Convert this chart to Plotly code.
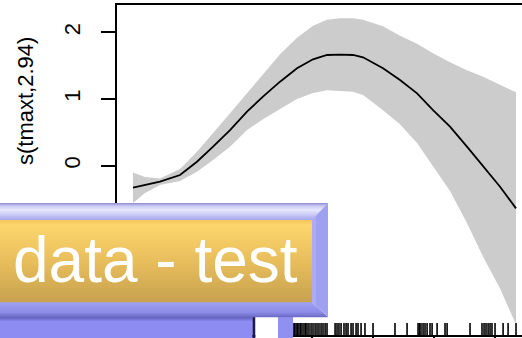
import plotly.graph_objects as go

W, H = 522, 338

# ---------------- data ----------------
tmaxt = [5.33, 6.31, 7.54, 9.18, 10.57, 11.89, 13.28, 14.67, 15.98, 17.38,
         18.77, 20.08, 21.23, 22.30, 23.36, 24.18, 25.82, 27.21, 28.61, 29.92,
         31.31, 32.70, 34.02, 35.41, 36.72]
fit = [-0.33, -0.29, -0.24, -0.14, 0.06, 0.285, 0.535, 0.81, 1.035, 1.26,
       1.46, 1.595, 1.66, 1.665, 1.66, 1.625, 1.46, 1.285, 1.085, 0.835,
       0.585, 0.285, -0.015, -0.315, -0.64]
upper = [-0.10, -0.17, -0.19, -0.05, 0.21, 0.485, 0.785, 1.085, 1.375, 1.67,
         1.92, 2.10, 2.19, 2.21, 2.21, 2.19, 2.09, 1.95, 1.83, 1.685,
         1.55, 1.43, 1.335, 1.21, 1.10]
lower = [-0.56, -0.41, -0.29, -0.23, -0.09, 0.085, 0.285, 0.535, 0.695, 0.85,
         1.00, 1.09, 1.13, 1.12, 1.11, 1.06, 0.83, 0.62, 0.34, -0.015,
         -0.38, -0.86, -1.365, -1.84, -2.38]
rug_tmaxt = [18.44, 18.57, 18.69, 18.81, 18.93, 19.06, 19.18, 19.34, 19.47, 19.59,
             19.75, 19.92, 20.08, 20.25, 20.41, 20.57, 20.74, 20.90, 21.07, 21.23,
             21.89, 22.05, 22.21, 22.38, 22.62, 22.79, 22.95, 23.20, 23.36, 23.61,
             23.77, 24.02, 24.34, 25.00, 26.80, 27.79, 28.69, 28.81, 28.93, 29.10,
             29.26, 29.43, 29.67, 29.84, 30.25, 30.90, 31.07, 32.95, 33.93, 34.10,
             34.26, 34.43, 34.59, 34.75, 35.00, 35.66, 36.07, 36.72]
y_tick_values = [0, 1, 2]
y_tick_labels = ["0", "1", "2"]
x_tick_values = [5, 10, 15, 20, 25, 30, 35]
y_title = "s(tmaxt,2.94)"
overlay_text = "data - test"

X_RANGE = [4.016, 37.21]
Y_RANGE = [-2.538, 2.405]

# ---------------- layout geometry (pixels) ----------------
PLOT_L, PLOT_R = 117, 522
PLOT_T, PLOT_B = 5.3, 335
FONT = "Liberation Sans, Arial, sans-serif"


def px(x):
    return x / W


def py(y):
    return 1 - y / H


fig = go.Figure()

# confidence band
fig.add_trace(go.Scatter(
    x=tmaxt + tmaxt[::-1], y=upper + lower[::-1],
    fill="toself", fillcolor="#cccccc", line=dict(width=0),
    mode="lines", hoverinfo="skip", showlegend=False))

# smooth
fig.add_trace(go.Scatter(
    x=tmaxt, y=fit, mode="lines",
    line=dict(color="black", width=1.8), showlegend=False))

# rug
rug_len = (Y_RANGE[1] - Y_RANGE[0]) * 12 / (PLOT_B - PLOT_T)
rx, ry = [], []
for v in rug_tmaxt:
    rx += [v, v, None]
    ry += [Y_RANGE[0], Y_RANGE[0] + rug_len, None]
fig.add_trace(go.Scatter(x=rx, y=ry, mode="lines",
                         line=dict(color="black", width=1.6),
                         showlegend=False, hoverinfo="skip"))

shapes = []


def rect(x0, y0, x1, y1, color):
    shapes.append(dict(type="rect", xref="paper", yref="paper",
                       x0=px(x0), x1=px(x1), y0=py(y1), y1=py(y0),
                       fillcolor=color, line=dict(width=0), layer="above"))


def poly(points, color):
    path = "M " + " L ".join(f"{px(a):.5f},{py(b):.5f}" for a, b in points) + " Z"
    shapes.append(dict(type="path", xref="paper", yref="paper", path=path,
                       fillcolor=color, line=dict(width=0), layer="above"))


def lerp(c0, c1, t):
    return "rgb(%d,%d,%d)" % tuple(round(a + (b - a) * t) for a, b in zip(c0, c1))


def grad(stops, t):
    for i in range(len(stops) - 1):
        t0, c0 = stops[i]
        t1, c1 = stops[i + 1]
        if t0 <= t <= t1:
            return lerp(c0, c1, (t - t0) / (t1 - t0) if t1 > t0 else 0)
    return lerp(stops[-1][1], stops[-1][1], 0)


# ---------- overlay: lower blue panel pieces ----------
rect(-5, 317, 252.5, 340, "#8c8cf2")
for i in range(5):
    rect(-5, 317 + i, 252.5, 318 + i, grad([(0, (100, 100, 190)), (1, (140, 140, 242))], i / 4))
rect(252.5, 317, 255.5, 340, "#1c1c55")
rect(255.5, 317, 278, 340, "#ffffff")
rect(278, 317, 293, 340, "#9090f0")

# ---------- overlay: bevelled box ----------
BX0, BX1 = -10, 328
BY0, BY1 = 203, 317
IX1, IY0, IY1 = 312, 220, 302

# top bevel (gradient, trapezoid strips)
top_stops = [(0, (150, 150, 215)), (0.15, (200, 200, 245)), (0.4, (232, 232, 252)),
             (1.0, (170, 170, 240))]
n = 17
for i in range(n):
    y0 = BY0 + (IY0 - BY0) * i / n
    y1 = BY0 + (IY0 - BY0) * (i + 1) / n
    xr0 = BX1 - (BX1 - IX1) * (y0 - BY0) / (IY0 - BY0)
    xr1 = BX1 - (BX1 - IX1) * (y1 - BY0) / (IY0 - BY0)
    poly([(BX0, y0), (xr0, y0), (xr1, y1 + 0.3), (BX0, y1 + 0.3)], grad(top_stops, i / (n - 1)))

# right bevel
poly([(BX1, BY0), (BX1, BY1), (IX1, IY1), (IX1, IY0)], "#a0a0f0")
poly([(IX1, IY0), (IX1 + 4, IY0 - 3), (IX1 + 4, IY1 + 3), (IX1, IY1)], "#acacf4")

# bottom bevel
bot_stops = [(0, (160, 160, 242)), (0.7, (140, 140, 232)), (1.0, (110, 110, 200))]
n = 15
for i in range(n):
    y0 = IY1 + (BY1 - IY1) * i / n
    y1 = IY1 + (BY1 - IY1) * (i + 1) / n
    xr0 = IX1 + (BX1 - IX1) * (y0 - IY1) / (BY1 - IY1)
    xr1 = IX1 + (BX1 - IX1) * (y1 - IY1) / (BY1 - IY1)
    poly([(BX0, y0), (xr0, y0), (xr1, y1 + 0.3), (BX0, y1 + 0.3)], grad(bot_stops, i / (n - 1)))

# golden face
gold_stops = [(0, (246, 200, 96)), (0.05, (252, 214, 108)), (0.5, (232, 190, 92)),
              (1.0, (200, 162, 80))]
n = 41
for i in range(n):
    y0 = IY0 + (IY1 - IY0) * i / n
    y1 = IY0 + (IY1 - IY0) * (i + 1) / n
    rect(BX0, y0, IX1, y1 + 0.3, grad(gold_stops, i / (n - 1)))

annotations = [
    dict(text=overlay_text, x=px(10.5), y=py(260), xref="paper", yref="paper",
         xanchor="left", yanchor="middle", showarrow=False,
         font=dict(family=FONT, size=64, color="white")),
    dict(text=y_title, x=px(25), y=py(101), xref="paper", yref="paper",
         xanchor="center", yanchor="middle", showarrow=False, textangle=-90,
         font=dict(family=FONT, size=22, color="black")),
]

fig.update_layout(
    width=W, height=H, template="none",
    margin=dict(l=0, r=0, t=0, b=0, pad=0),
    paper_bgcolor="white", plot_bgcolor="white",
    showlegend=False,
    xaxis=dict(domain=[px(PLOT_L), 1], range=X_RANGE, showgrid=False, zeroline=False,
               showline=True, mirror=True, linecolor="black", linewidth=2,
               ticks="outside", ticklen=14, tickwidth=1.5, tickcolor="black",
               tickvals=x_tick_values, showticklabels=False, automargin=False),
    yaxis=dict(domain=[py(PLOT_B), py(PLOT_T)], range=Y_RANGE, showgrid=False,
               zeroline=False, showline=True, mirror=False, linecolor="black",
               linewidth=2, ticks="outside", ticklen=14, tickwidth=1.5,
               tickcolor="black", tickvals=y_tick_values, ticktext=y_tick_labels,
               tickangle=-90, ticklabelstandoff=12, automargin=False,
               tickfont=dict(family=FONT, size=22, color="black")),
    shapes=shapes,
    annotations=annotations,
)

fig.write_html("out.html")
